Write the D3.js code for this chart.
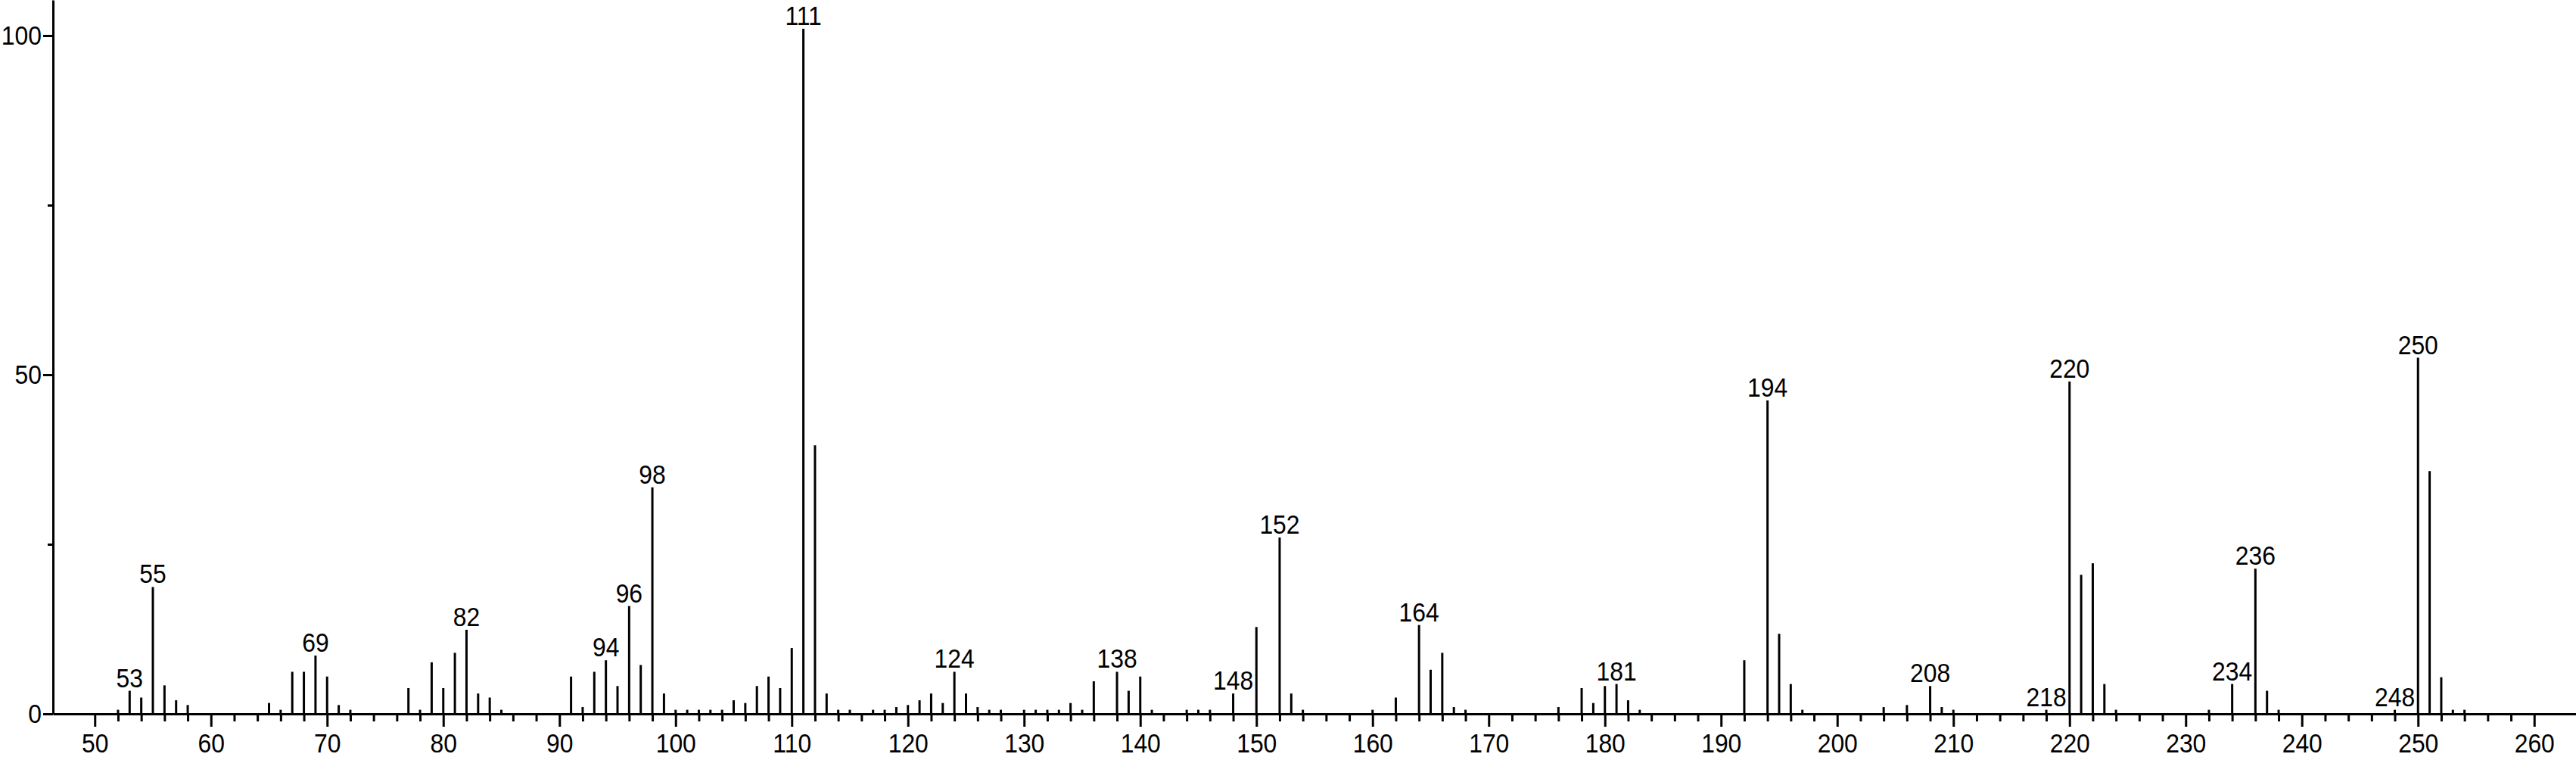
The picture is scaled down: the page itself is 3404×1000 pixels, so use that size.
<!DOCTYPE html>
<html>
<head>
<meta charset="utf-8">
<script src="https://cdn.jsdelivr.net/npm/d3@7"></script>
<style>
  html, body { margin: 0; padding: 0; background: #fff; }
  svg { display: block; }
  text { font-family: "Liberation Sans", Arial, sans-serif; fill: #000; }
</style>
</head>
<body>
<svg id="chart" width="3404" height="1000"></svg>
<script>
// m/z values and relative intensities
const mz = [52,53,54,55,56,57,58,
  65,66,67,68,69,70,71,72,
  77,78,79,80,81,82,83,84,85,
  91,92,93,94,95,96,97,98,99,
  100,101,102,103,104,105,106,107,108,109,110,111,112,113,114,115,117,118,119,
  120,121,122,123,124,125,126,127,128,130,131,132,133,134,135,136,138,139,140,141,144,145,146,148,150,152,153,154,
  160,162,164,165,166,167,168,176,178,179,180,181,182,183,192,
  194,195,196,197,204,206,208,209,210,218,220,221,222,223,224,
  232,234,236,237,238,248,250,251,252,253,254];
const intensity = [0.6,3.4,2.4,18.7,4.2,2.0,1.3,
  1.6,0.6,6.2,6.2,8.6,5.5,1.3,0.6,
  3.8,0.6,7.6,3.8,9.0,12.4,3.0,2.4,0.6,
  5.5,1.0,6.2,7.9,4.1,15.9,7.2,33.4,3.0,
  0.6,0.6,0.6,0.6,0.6,2.0,1.6,4.1,5.5,3.8,9.7,101,39.6,3.0,0.6,0.6,0.6,0.6,1.0,
  1.3,2.0,3.0,1.6,6.2,3.0,1.0,0.6,0.6,0.6,0.6,0.6,0.6,1.6,0.6,4.8,6.2,3.4,5.5,0.6,0.6,0.6,0.6,3.0,12.8,26.0,3.0,0.6,
  0.6,2.4,13.1,6.5,9.0,1.0,0.6,1.0,3.8,1.6,4.1,4.4,2.0,0.6,7.9,
  46.2,11.8,4.4,0.6,1.0,1.3,4.1,1.0,0.6,0.6,49.0,20.5,22.2,4.4,0.6,
  0.6,4.4,21.4,3.4,0.6,0.6,52.5,35.8,5.4,0.6,0.6];
// peaks that carry an m/z label
const labeledPeaks = [53,55,69,82,94,96,98,111,124,138,148,152,164,181,194,208,218,220,234,236,248,250];
// axis ticks
const xMajorTicks = [50,60,70,80,90,100,110,120,130,140,150,160,170,180,190,200,210,220,230,240,250,260];
const xMinorTicks = d3.range(52, 260, 2).filter(v => v % 10 !== 0);
const yMajorTicks = [0,50,100];
const yMinorTicks = [25,75];

(function draw() {
  const mLeft = 70, mRight = 3404, mTop = 0, mBottom = 943;
  const FS = 35, SX = 0.91;
  const svg = d3.select("#chart");

  const x = d3.scaleLinear().domain([46.4, 263.6]).range([mLeft, mRight]);
  const y = d3.scaleLinear().domain([0, 100]).range([mBottom, 47]);
  const yTopVal = y.invert(mTop);
  const yAx = d3.scaleLinear().domain([0, yTopVal]).range([mBottom, mTop]);

  const data = mz.map((m, i) => ({ mz: m, v: intensity[i] }));

  // bars (stick spectrum)
  svg.append("g").selectAll("line").data(data).join("line")
    .attr("x1", d => x(d.mz)).attr("x2", d => x(d.mz))
    .attr("y1", y(0)).attr("y2", d => y(d.v))
    .attr("stroke", "#000").attr("stroke-width", 3);

  // peak labels
  const labelSet = new Set(labeledPeaks);
  svg.append("g").selectAll("text").data(data.filter(d => labelSet.has(d.mz))).join("text")
    .attr("transform", d => `translate(${x(d.mz)},${y(d.v) - 5}) scale(${SX},1)`)
    .attr("text-anchor", "middle").attr("font-size", FS)
    .text(d => d.mz);

  function styleAxis(g) {
    g.selectAll("path.domain").attr("stroke", "#000").attr("stroke-width", 3);
    g.selectAll(".tick line").attr("stroke", "#000").attr("stroke-width", 3);
    g.selectAll(".tick text").attr("font-size", FS).attr("fill", "#000")
      .attr("transform", `scale(${SX},1)`)
      .style("font-family", '"Liberation Sans", Arial, sans-serif');
  }

  // x axis: minor ticks
  svg.append("g").attr("transform", `translate(0,${mBottom})`)
    .call(d3.axisBottom(x).tickValues(xMinorTicks).tickSize(10).tickSizeOuter(0).tickFormat(""))
    .call(g => g.select("path.domain").remove())
    .call(styleAxis);
  // x axis: major ticks + labels
  svg.append("g").attr("transform", `translate(0,${mBottom})`)
    .call(d3.axisBottom(x).tickValues(xMajorTicks).tickSize(17).tickSizeOuter(0).tickPadding(9).tickFormat(d3.format("d")))
    .call(styleAxis);

  // y axis: minor
  svg.append("g").attr("transform", `translate(${mLeft},0)`)
    .call(d3.axisLeft(y).tickValues(yMinorTicks).tickSize(7).tickSizeOuter(0).tickFormat(""))
    .call(g => g.select("path.domain").remove())
    .call(styleAxis);
  // y axis: major + labels
  svg.append("g").attr("transform", `translate(${mLeft},0)`)
    .call(d3.axisLeft(yAx).tickValues(yMajorTicks).tickSize(13).tickSizeOuter(0).tickPadding(2).tickFormat(d3.format("d")))
    .call(styleAxis)
    .call(g => g.selectAll(".tick text").attr("x", -15 / SX));
})();
</script>
</body>
</html>
